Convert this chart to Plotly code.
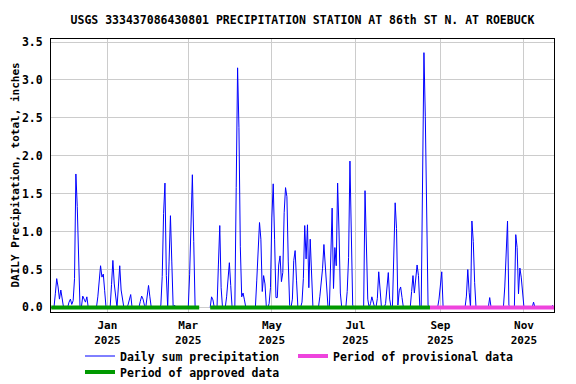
import pandas as pd
import plotly.graph_objects as go

chart_title = "USGS 333437086430801 PRECIPITATION STATION AT 86th ST N. AT ROEBUCK"
y_axis_title = "DAILY Precipitation, total, inches"

series_start = "2024-11-21"
series_end = "2025-11-22"
gap_start = "2025-03-09"
gap_end = "2025-03-16"

rain_dates = [
    "2024-11-24", "2024-11-25", "2024-11-26", "2024-11-27", "2024-11-28", "2024-11-29",
    "2024-12-04", "2024-12-05", "2024-12-06", "2024-12-07", "2024-12-08", "2024-12-09",
    "2024-12-10", "2024-12-11", "2024-12-14", "2024-12-15", "2024-12-16", "2024-12-17",
    "2024-12-25", "2024-12-26", "2024-12-27", "2024-12-28", "2024-12-29", "2024-12-30",
    "2025-01-04", "2025-01-05", "2025-01-06", "2025-01-07", "2025-01-09", "2025-01-10",
    "2025-01-11", "2025-01-12", "2025-01-16", "2025-01-17", "2025-01-18", "2025-01-25",
    "2025-01-26", "2025-01-27", "2025-01-28", "2025-01-30", "2025-01-31", "2025-02-01",
    "2025-02-09", "2025-02-10", "2025-02-11", "2025-02-12", "2025-02-13", "2025-02-15",
    "2025-02-16", "2025-02-17", "2025-02-19", "2025-03-02", "2025-03-03", "2025-03-04",
    "2025-03-05", "2025-03-18", "2025-03-19", "2025-03-23", "2025-03-24", "2025-03-25",
    "2025-03-29", "2025-03-30", "2025-03-31", "2025-04-01", "2025-04-05", "2025-04-06",
    "2025-04-07", "2025-04-08", "2025-04-09", "2025-04-10", "2025-04-11", "2025-04-20",
    "2025-04-21", "2025-04-22", "2025-04-23", "2025-04-24", "2025-04-25", "2025-04-26",
    "2025-04-29", "2025-04-30", "2025-05-01", "2025-05-02", "2025-05-03", "2025-05-04",
    "2025-05-05", "2025-05-06", "2025-05-07", "2025-05-08", "2025-05-09", "2025-05-10",
    "2025-05-11", "2025-05-12", "2025-05-13", "2025-05-14", "2025-05-16", "2025-05-17",
    "2025-05-18", "2025-05-19", "2025-05-23", "2025-05-24", "2025-05-25", "2025-05-26",
    "2025-05-27", "2025-05-28", "2025-05-29", "2025-05-30", "2025-06-05", "2025-06-06",
    "2025-06-07", "2025-06-08", "2025-06-09", "2025-06-10", "2025-06-13", "2025-06-14",
    "2025-06-15", "2025-06-16", "2025-06-17", "2025-06-18", "2025-06-19", "2025-06-20",
    "2025-06-25", "2025-06-26", "2025-06-27", "2025-06-28", "2025-06-29", "2025-07-08",
    "2025-07-09", "2025-07-10", "2025-07-12", "2025-07-13", "2025-07-14", "2025-07-17",
    "2025-07-18", "2025-07-19", "2025-07-23", "2025-07-24", "2025-07-25", "2025-07-26",
    "2025-07-29", "2025-07-30", "2025-07-31", "2025-08-01", "2025-08-02", "2025-08-03",
    "2025-08-04", "2025-08-11", "2025-08-12", "2025-08-13", "2025-08-14", "2025-08-15",
    "2025-08-16", "2025-08-19", "2025-08-20", "2025-08-21", "2025-08-22", "2025-08-23",
    "2025-08-31", "2025-09-01", "2025-09-02", "2025-09-20", "2025-09-21", "2025-09-22",
    "2025-09-24", "2025-09-25", "2025-09-26", "2025-10-07", "2025-10-18", "2025-10-19",
    "2025-10-20", "2025-10-21", "2025-10-26", "2025-10-27", "2025-10-28", "2025-10-29",
    "2025-10-30", "2025-10-31", "2025-11-08", "2025-11-22",
]
rain_values = [
    0.18, 0.38, 0.27, 0.11, 0.23, 0.10,
    0.07, 0.11, 0.04, 0.09, 0.38, 1.76,
    1.33, 0.46, 0.15, 0.11, 0.07, 0.14,
    0.14, 0.40, 0.55, 0.40, 0.44, 0.22,
    0.30, 0.62, 0.31, 0.11, 0.27, 0.55,
    0.23, 0.08, 0.03, 0.11, 0.17, 0.08,
    0.15, 0.11, 0.03, 0.14, 0.29, 0.14,
    0.03, 0.41, 1.24, 1.64, 0.42, 0.60,
    1.21, 0.60, 0.03, 0.43, 1.30, 1.75,
    0.87, 0.14, 0.10, 0.56, 1.08, 0.26,
    0.14, 0.39, 0.59, 0.29, 1.58, 3.16,
    2.37, 0.80, 0.14, 0.19, 0.10, 0.36,
    0.80, 1.12, 0.90, 0.21, 0.42, 0.31,
    0.05, 0.26, 1.18, 1.63, 0.90, 0.13,
    0.13, 0.56, 0.68, 0.34, 0.46, 1.25,
    1.58, 1.46, 0.60, 0.03, 0.11, 0.62,
    0.75, 0.36, 0.07, 0.38, 1.08, 0.64,
    1.09, 0.26, 0.90, 0.44, 0.14, 0.34,
    0.51, 0.83, 0.58, 0.23, 0.66, 1.31,
    0.25, 0.79, 0.55, 1.64, 1.02, 0.19,
    0.21, 0.66, 1.93, 0.96, 0.03, 1.54,
    0.84, 0.11, 0.05, 0.14, 0.06, 0.12,
    0.47, 0.23, 0.05, 0.29, 0.46, 0.11,
    0.69, 1.38, 1.04, 0.03, 0.22, 0.27,
    0.13, 0.21, 0.42, 0.19, 0.34, 0.56,
    0.42, 1.67, 3.36, 2.52, 0.83, 0.03,
    0.11, 0.35, 0.47, 0.15, 0.50, 0.20,
    1.14, 0.87, 0.33, 0.13, 0.27, 0.85,
    1.14, 0.03, 0.96, 0.79, 0.18, 0.52,
    0.40, 0.17, 0.07, 0.03,
]

approved_starts = ["2024-11-21", "2025-03-17"]
approved_ends = ["2025-03-09", "2025-08-24 10:00"]
provisional_start = "2025-08-24 10:00"
provisional_end = "2025-11-23"

tick_dates = ["2025-01-01", "2025-03-01", "2025-05-01", "2025-07-01", "2025-09-01", "2025-11-01"]
tick_labels = ["Jan<br>2025", "Mar<br>2025", "May<br>2025", "Jul<br>2025", "Sep<br>2025", "Nov<br>2025"]
y_ticks = [0.0, 0.5, 1.0, 1.5, 2.0, 2.5, 3.0, 3.5]

# ---- build daily series ----
days = pd.date_range(series_start, series_end, freq="D")
rain_map = dict(zip(pd.to_datetime(rain_dates), rain_values))
g0, g1 = pd.Timestamp(gap_start), pd.Timestamp(gap_end)
day_strings = [d.strftime("%Y-%m-%d") for d in days]
daily = [None if g0 <= d <= g1 else rain_map.get(d, 0.0) for d in days]

FONT = "DejaVu Sans Mono"
# page has an 8px body margin, so the figure is 568x376 placed at (8, 8)
W, H = 568, 376

fig = go.Figure()

fig.add_trace(go.Scatter(
    x=day_strings, y=daily, mode="lines", name="Daily sum precipitation",
    line=dict(color="#0000ff", width=1), connectgaps=False, legend="legend",
))

ax, ay = [], []
for s, e in zip(approved_starts, approved_ends):
    ax += [s, e, None]
    ay += [0, 0, None]
fig.add_trace(go.Scatter(
    x=ax, y=ay, mode="lines", name="Period of approved data",
    line=dict(color="#009900", width=4), legend="legend3",
))
fig.add_trace(go.Scatter(
    x=[provisional_start, provisional_end], y=[0, 0], mode="lines",
    name="Period of provisional data",
    line=dict(color="#ee44dd", width=4), legend="legend2",
))

legend_font = dict(family=FONT, size=11.5, color="black", weight="bold")
common_legend = dict(xref="container", yref="container", xanchor="left", yanchor="middle",
                     font=legend_font, bgcolor="rgba(0,0,0,0)", borderwidth=0,
                     itemwidth=30, tracegroupgap=0)

fig.update_layout(
    width=W, height=H,
    margin=dict(l=43, r=22, t=31, b=72, autoexpand=False),
    paper_bgcolor="white", plot_bgcolor="white",
    title=dict(text=chart_title, x=0.5, xref="paper", xanchor="center", y=1 - 12 / H,
               yanchor="middle", yref="container",
               font=dict(family=FONT, size=11.5, color="black", weight="bold")),
    showlegend=True,
    legend=dict(x=72 / W, y=1 - 348 / H, **common_legend),
    legend2=dict(x=285 / W, y=1 - 348 / H, **common_legend),
    legend3=dict(x=72 / W, y=1 - 364 / H, **common_legend),
    xaxis=dict(
        type="date",
        range=["2024-11-20 20:00", "2025-11-22 22:00"],
        tickvals=tick_dates, ticktext=tick_labels,
        showgrid=True, gridcolor="#cccccc", gridwidth=1,
        showline=True, linecolor="black", linewidth=1, mirror=True,
        ticks="", ticklabelstandoff=3,
        tickfont=dict(family=FONT, size=11, color="black", weight="bold"),
        zeroline=False,
    ),
    yaxis=dict(
        range=[-0.06, 3.54], tickvals=y_ticks, tickformat=".1f",
        showgrid=True, gridcolor="#cccccc", gridwidth=1,
        showline=True, linecolor="black", linewidth=1, mirror=True,
        ticks="", zeroline=False, ticklabelstandoff=5,
        tickfont=dict(family=FONT, size=11.5, color="black", weight="bold"),
    ),
    annotations=[dict(
        text=y_axis_title, textangle=-90, xref="paper", yref="paper",
        x=(7 - 43) / 503, y=0.5, xanchor="center", yanchor="middle", showarrow=False,
        font=dict(family=FONT, size=11, color="black", weight="bold"),
    )],
)

fig.write_html("out.html")
